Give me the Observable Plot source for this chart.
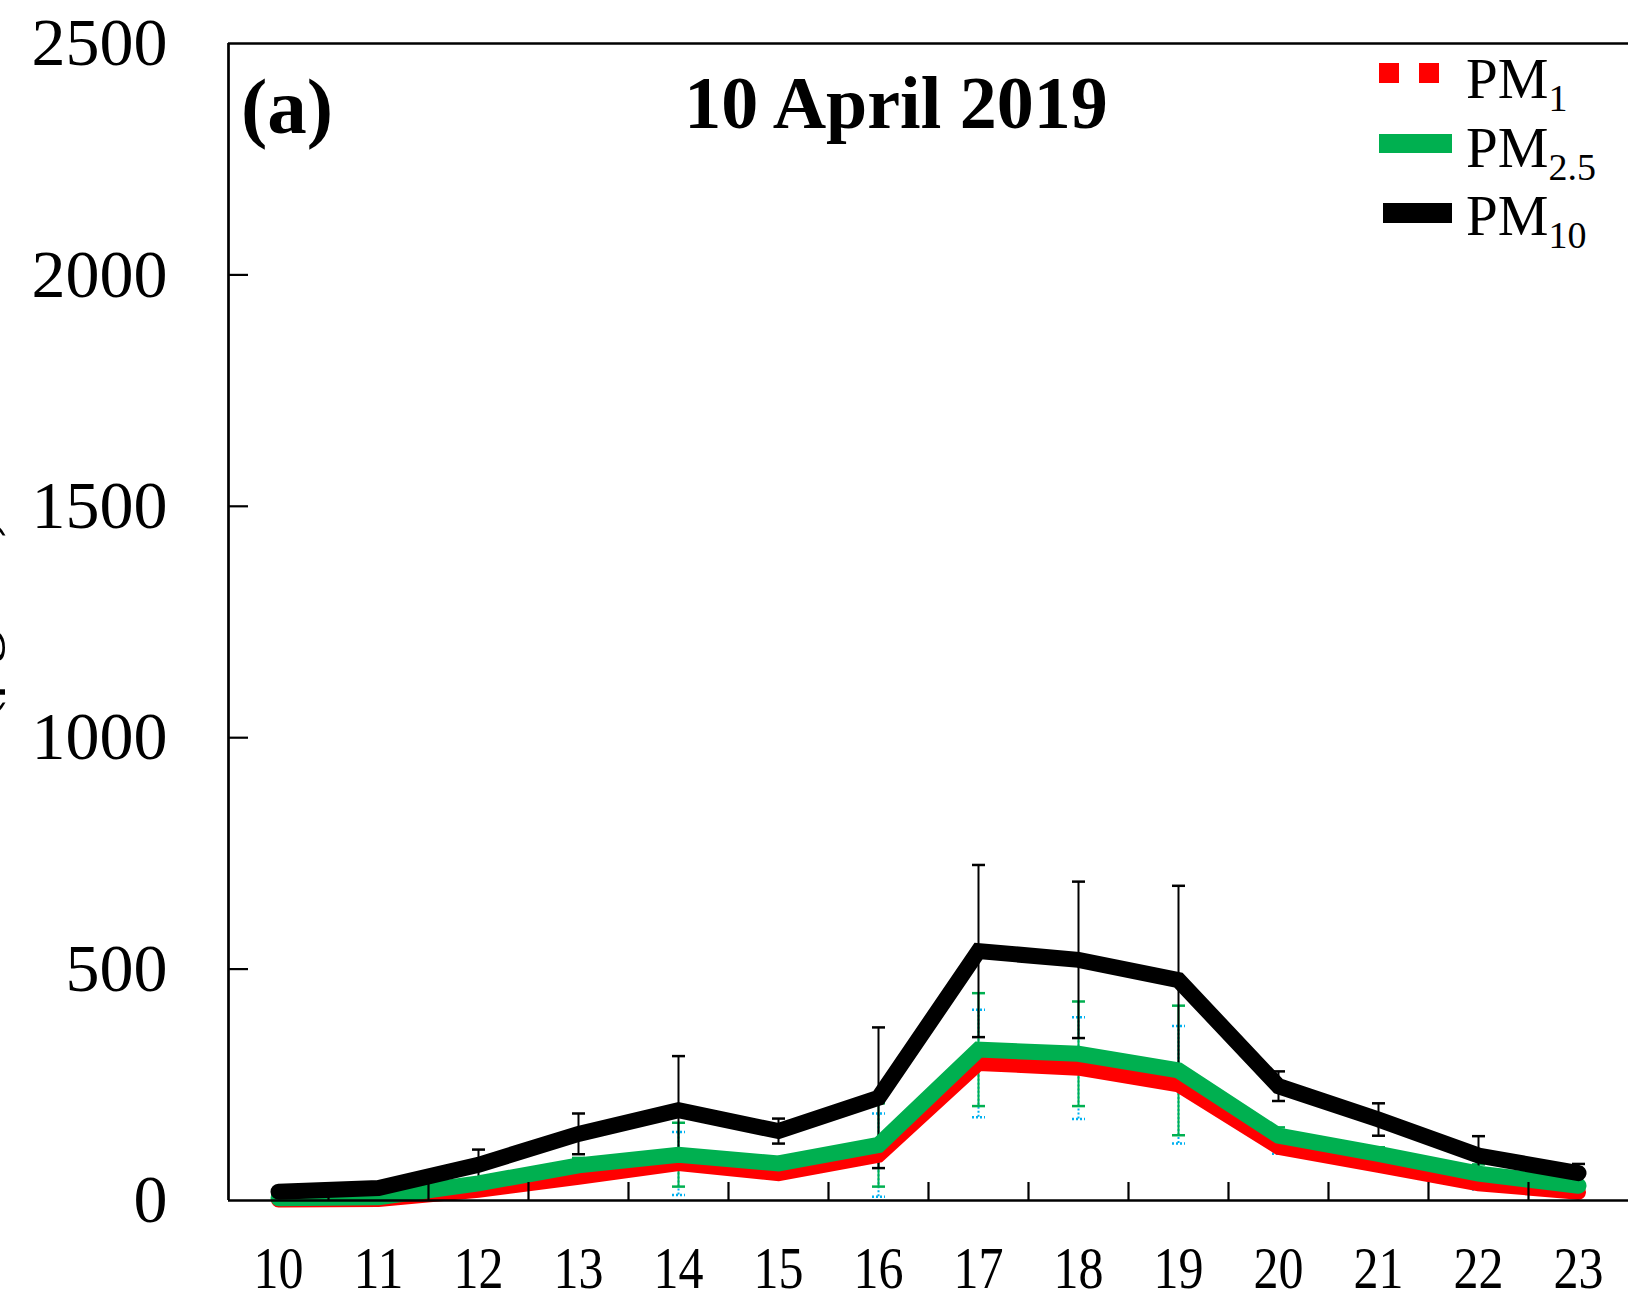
<!DOCTYPE html>
<html><head><meta charset="utf-8">
<script src="https://cdn.jsdelivr.net/npm/d3@7"></script>
<script src="https://cdn.jsdelivr.net/npm/@observablehq/plot@0.6"></script>
<style>
body{margin:0;background:#fff;}
#wrap{position:relative;width:1628px;height:1301px;overflow:hidden;background:#fff;}
#wrap svg{position:absolute;left:0;top:0;}
</style></head><body><div id="wrap"></div>
<script>
// ---- data ----
const hours = [10, 11, 12, 13, 14, 15, 16, 17, 18, 19, 20, 21, 22, 23];
const pm1    = [1, 2, 22, 50, 80, 58, 98, 296, 286, 250, 115, 76, 36, 18];
const pm1Sd  = [0, 0, 5, 10, 68, 5, 90, 116, 110, 127, 14, 9, 12, 5];
const pm25   = [5, 7, 37, 76, 99, 80, 120, 326, 317, 281, 140, 101, 58, 32];
const pm25Sd = [0, 0, 8, 16, 69, 6, 90, 122, 113, 140, 18, 14, 20, 6];
const pm10   = [19, 27, 77, 144, 195, 150, 222, 539, 520, 476, 247, 175, 97, 59];
const pm10Sd = [0, 0, 33, 44, 117, 27, 152, 186, 169, 204, 32, 35, 42, 20];
const yTicks = [0, 500, 1000, 1500, 2000, 2500];
const yTickLabels = ["0", "500", "1000", "1500", "2000", "2500"];
const yInnerTicks = [500, 1000, 1500, 2000];
const xTickLabels = ["10","11","12","13","14","15","16","17","18","19","20","21","22","23"];
const xTickMarks = [10.5, 11.5, 12.5, 13.5, 14.5, 15.5, 16.5, 17.5, 18.5, 19.5, 20.5, 21.5, 22.5];
const xDomain = [9.5, 23.5];
const yDomain = [0, 2500];
const seriesNames = ["PM", "PM", "PM"];
const seriesSubs = ["1", "2.5", "10"];
const seriesColors = ["#FF0000", "#00B050", "#000000"];
const errColors = ["#00B0F0", "#00B050", "#000000"];
const titleText = "10 April 2019";
const panelText = "(a)";
const yTitle = "Concentration (\u03bcg/m\u00b3)";

const rows = hours.map((h, i) => ({
  hour: h, label: xTickLabels[i],
  pm1: pm1[i], pm1Sd: pm1Sd[i],
  pm25: pm25[i], pm25Sd: pm25Sd[i],
  pm10: pm10[i], pm10Sd: pm10Sd[i]
}));

const FONT = "'Liberation Serif', 'Times New Roman', serif";
const capSymbol = {draw(ctx, size) { const w = Math.sqrt(size / Math.PI); ctx.moveTo(-w, 0); ctx.lineTo(w, 0); }};

function errMarks(key, sdKey, color, dash) {
  const f = d => d[sdKey] > 0;
  return [
    Plot.ruleX(rows, {filter: f, x: "hour", y1: d => d[key] - d[sdKey], y2: d => d[key] + d[sdKey], stroke: color, strokeWidth: 2, strokeDasharray: dash}),
    Plot.dot(rows, {filter: f, x: "hour", y: d => d[key] + d[sdKey], symbol: capSymbol, r: 6.5, fill: "none", stroke: color, strokeWidth: 2.5, strokeDasharray: dash}),
    Plot.dot(rows, {filter: f, x: "hour", y: d => d[key] - d[sdKey], symbol: capSymbol, r: 6.5, fill: "none", stroke: color, strokeWidth: 2.5, strokeDasharray: dash})
  ];
}

const lineOpts = {x: "hour", strokeLinecap: "round", strokeLinejoin: "miter", strokeMiterlimit: 4};

const chart = Plot.plot({
  width: 1628, height: 1301,
  marginLeft: 228, marginRight: 0, marginTop: 43, marginBottom: 101,
  style: {fontFamily: FONT, fontSize: "68px", color: "black", background: "white"},
  x: {type: "linear", domain: xDomain, axis: null, label: null},
  y: {type: "linear", domain: yDomain, axis: null, label: null},
  marks: [
    ...errMarks("pm1", "pm1Sd", errColors[0], "2,2"),
    ...errMarks("pm25", "pm25Sd", errColors[1], null),
    ...errMarks("pm10", "pm10Sd", errColors[2], null),
    Plot.line(rows, {...lineOpts, y: "pm1", stroke: seriesColors[0], strokeWidth: 15}),
    Plot.line(rows, {...lineOpts, y: "pm25", stroke: seriesColors[1], strokeWidth: 16}),
    Plot.line(rows, {...lineOpts, y: "pm10", stroke: seriesColors[2], strokeWidth: 16}),
    Plot.ruleY([yDomain[0], yDomain[1]], {stroke: "black", strokeWidth: 2.7}),
    Plot.ruleX([xDomain[0]], {stroke: "black", strokeWidth: 2.7}),
    Plot.axisY(yInnerTicks, {tickSize: -20, tickFormat: () => "", strokeWidth: 2.2, label: null}),
    Plot.axisX(xTickMarks, {tickSize: -18, tickFormat: () => "", strokeWidth: 2.2, label: null}),
    Plot.axisY(yTicks, {tickSize: 0, tickPadding: 61, fontSize: 68, tickFormat: d => yTickLabels[yTicks.indexOf(d)], label: null}),
    Plot.axisX(hours, {tickSize: 0, tickPadding: 45, fontSize: 60, tickFormat: d => xTickLabels[hours.indexOf(d)], label: null})
  ]
});
const wrap = document.getElementById("wrap");
wrap.appendChild(chart);

// squeeze x tick labels like the original
d3.select(chart).selectAll("g[aria-label='x-axis tick label'] text")
  .attr("textLength", 50).attr("lengthAdjust", "spacingAndGlyphs");

// overlay: title, panel letter, legend, cropped y title
const ov = d3.select(wrap).append("svg")
  .attr("width", 1628).attr("height", 1301)
  .style("font-family", FONT).style("pointer-events", "none");

ov.append("text").attr("x", 896).attr("y", 128).attr("text-anchor", "middle")
  .attr("font-size", 74).attr("font-weight", "bold").text(titleText);
ov.append("text").attr("x", 241).attr("y", 133)
  .attr("font-size", 79).attr("font-weight", "bold").text(panelText);
ov.append("text").attr("transform", "translate(-9,515) rotate(-90)").attr("text-anchor", "end")
  .attr("font-size", 68).text(yTitle);

const legendY = [73, 143.5, 213];
const swatchX = [[1379, 1439], [1379, 1452], [1383, 1452]];
const swatchW = [20, 19, 20];
const swatchDash = ["20,20", null, null];
const textBase = [98, 167, 235];
seriesNames.forEach((name, i) => {
  ov.append("line").attr("x1", swatchX[i][0]).attr("x2", swatchX[i][1])
    .attr("y1", legendY[i]).attr("y2", legendY[i])
    .attr("stroke", seriesColors[i]).attr("stroke-width", swatchW[i])
    .attr("stroke-dasharray", swatchDash[i]);
  const t = ov.append("text").attr("x", 1466).attr("y", textBase[i]).attr("font-size", 57);
  t.append("tspan").text(name);
  t.append("tspan").attr("font-size", 38).attr("dy", 13).text(seriesSubs[i]);
});
</script></body></html>
